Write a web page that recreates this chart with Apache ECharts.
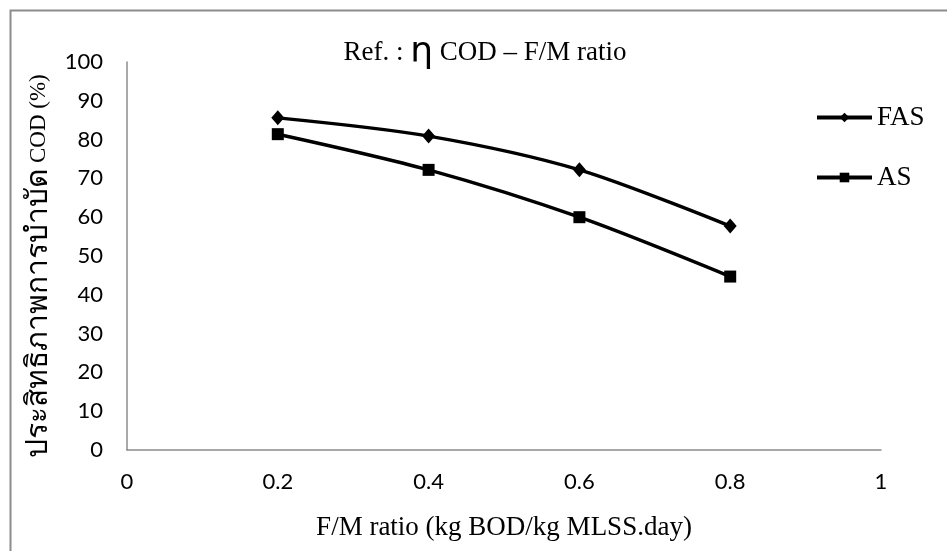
<!DOCTYPE html>
<html>
<head>
<meta charset="utf-8">
<script src="https://cdn.jsdelivr.net/npm/echarts@6/dist/echarts.min.js"></script>
<style>
  html, body { margin: 0; padding: 0; background: #fff; }
  #chart { width: 947px; height: 551px; }
</style>
</head>
<body>
<div id="chart"></div>
<script>
// data
var fmRatio = [0.2, 0.4, 0.6, 0.8]
var fasValues = [85.6, 80.9, 72.2, 57.7]
var asValues = [81.4, 72.2, 60.0, 44.7]
var seriesNames = ['FAS', 'AS']

var myChart = echarts.init(document.getElementById('chart'))

function pairs(xs, ys) {
    return xs.map(function (x, i) { return [x, ys[i]] })
}

var serif = '"Liberation Serif", "Times New Roman", serif'
var sans = 'Lato, "Open Sans", sans-serif'

myChart.setOption({
    animation: false,
    backgroundColor: '#fff',
    graphic: [{
        type: 'rect',
        left: 8, top: 8,
        shape: { width: 960, height: 560 },
        style: { fill: 'none', stroke: '#8c8c8c', lineWidth: 2 },
        z: -1
    }],
    title: {
        text: 'Ref. : {eta|η} COD – F/M ratio',
        left: 480,
        top: 30,
        textAlign: 'center',
        textStyle: {
            fontFamily: serif,
            fontSize: 27,
            fontWeight: 'normal',
            color: '#000',
            rich: {
                eta: { fontFamily: 'DejaVu Sans, sans-serif', fontSize: 36, color: '#000' }
            }
        }
    },
    legend: {
        orient: 'vertical',
        left: 815,
        top: 104,
        padding: 0,
        itemWidth: 55,
        itemHeight: 12,
        itemGap: 33,
        lineStyle: { width: 4 },
        textStyle: { fontFamily: serif, fontSize: 27, color: '#000' },
        data: seriesNames
    },
    grid: { left: 127, top: 62, width: 754, height: 388, containLabel: false },
    xAxis: {
        type: 'value',
        min: 0, max: 1, interval: 0.2,
        name: 'F/M ratio (kg BOD/kg MLSS.day)',
        nameLocation: 'middle',
        nameGap: 64,
        nameTextStyle: { fontFamily: serif, fontSize: 27, color: '#000' },
        axisLine: { show: true, lineStyle: { color: '#8c8c8c', width: 1.5 } },
        axisTick: { show: false },
        splitLine: { show: false },
        axisLabel: { fontFamily: sans, fontSize: 22, color: '#000', margin: 21 }
    },
    yAxis: {
        type: 'value',
        min: 0, max: 100, interval: 10,
        name: '{th|ประสิทธิภาพการบำบัด}{en| COD (%)}',
        nameLocation: 'middle',
        nameGap: 59,
        nameTextStyle: {
            fontFamily: serif, fontSize: 22, color: '#000',
            rich: {
                th: { fontFamily: serif, fontSize: 30, color: '#000' },
                en: { fontFamily: serif, fontSize: 23, color: '#000', padding: [0, 20, 0, 0] }
            }
        },
        axisLine: { show: true, lineStyle: { color: '#8c8c8c', width: 1.5 } },
        axisTick: { show: false },
        splitLine: { show: false },
        axisLabel: { fontFamily: sans, fontSize: 22, color: '#000', margin: 24 }
    },
    series: [{
        name: seriesNames[0],
        type: 'line',
        smooth: 0.3,
        symbol: 'diamond',
        symbolSize: [13, 15],
        itemStyle: { color: '#000' },
        lineStyle: { color: '#000', width: 3.5 },
        data: pairs(fmRatio, fasValues)
    }, {
        name: seriesNames[1],
        type: 'line',
        smooth: 0.3,
        symbol: 'rect',
        symbolSize: 12,
        itemStyle: { color: '#000' },
        lineStyle: { color: '#000', width: 3.5 },
        data: pairs(fmRatio, asValues)
    }]
})
</script>
</body>
</html>
